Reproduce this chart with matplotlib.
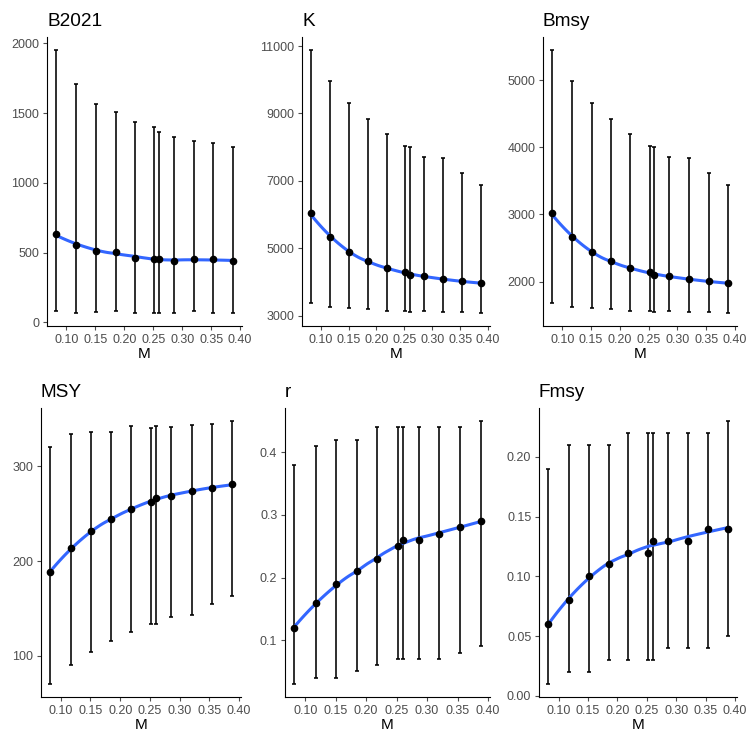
import numpy as np
import matplotlib
matplotlib.use("Agg")
import matplotlib.pyplot as plt

plt.rcParams['font.family'] = ['Liberation Sans', 'DejaVu Sans']

# ---- data ----
M = [0.082, 0.117, 0.151, 0.185, 0.218, 0.252, 0.260, 0.286, 0.320, 0.354, 0.388]

b2021 = [631, 555, 512, 505, 464, 457, 457, 440, 452, 457, 440]
b2021_lo = [79, 71, 76, 79, 71, 71, 71, 71, 79, 71, 69]
b2021_hi = [1952, 1710, 1567, 1512, 1440, 1398, 1362, 1331, 1300, 1290, 1255]

k = [6032, 5321, 4877, 4610, 4402, 4294, 4205, 4165, 4086, 4017, 3958]
k_lo = [3375, 3247, 3217, 3198, 3148, 3148, 3109, 3138, 3109, 3109, 3079]
k_hi = [10881, 9963, 9301, 8847, 8402, 8037, 8017, 7711, 7691, 7237, 6881]

bmsy = [3015, 2658, 2436, 2302, 2198, 2144, 2099, 2079, 2040, 2005, 1975]
bmsy_lo = [1683, 1619, 1604, 1594, 1559, 1559, 1550, 1559, 1550, 1550, 1535]
bmsy_hi = [5446, 4985, 4653, 4426, 4203, 4020, 4010, 3856, 3847, 3619, 3441]

msy = [188, 214, 232, 244, 255, 262, 267, 269, 274, 277, 281]
msy_lo = [70, 90, 104, 115, 125, 133, 133, 141, 143, 154, 163]
msy_hi = [321, 334, 336, 337, 343, 341, 343, 342, 344, 345, 348]

r = [0.12, 0.16, 0.19, 0.21, 0.23, 0.25, 0.26, 0.26, 0.27, 0.28, 0.29]
r_lo = [0.03, 0.04, 0.04, 0.05, 0.06, 0.07, 0.07, 0.07, 0.07, 0.08, 0.09]
r_hi = [0.38, 0.41, 0.42, 0.42, 0.44, 0.44, 0.44, 0.44, 0.44, 0.44, 0.45]

fmsy = [0.06, 0.08, 0.10, 0.11, 0.12, 0.12, 0.13, 0.13, 0.13, 0.14, 0.14]
fmsy_lo = [0.01, 0.02, 0.02, 0.03, 0.03, 0.03, 0.03, 0.04, 0.04, 0.04, 0.05]
fmsy_hi = [0.19, 0.21, 0.21, 0.21, 0.22, 0.22, 0.22, 0.22, 0.22, 0.22, 0.23]

titles = ["B2021", "K", "Bmsy", "MSY", "r", "Fmsy"]
yticks = [
    [0, 500, 1000, 1500, 2000],
    [3000, 5000, 7000, 9000, 11000],
    [2000, 3000, 4000, 5000],
    [100, 200, 300],
    [0.1, 0.2, 0.3, 0.4],
    [0.00, 0.05, 0.10, 0.15, 0.20],
]
yfmt = ["{:.0f}", "{:.0f}", "{:.0f}", "{:.0f}", "{:.1f}", "{:.2f}"]
xticks = [0.10, 0.15, 0.20, 0.25, 0.30, 0.35, 0.40]

series = [
    (b2021, b2021_lo, b2021_hi),
    (k, k_lo, k_hi),
    (bmsy, bmsy_lo, bmsy_hi),
    (msy, msy_lo, msy_hi),
    (r, r_lo, r_hi),
    (fmsy, fmsy_lo, fmsy_hi),
]

# panel boxes in pixels: left, right, top, bottom
W, H = 747, 732
boxes = [
    (47, 242, 37, 326),
    (302, 490, 37, 326),
    (543, 737, 37, 326),
    (41, 241, 408, 697),
    (285, 490, 408, 697),
    (539, 737, 408, 697),
]


def loess(x, y, xs, span=0.75):
    x = np.asarray(x, float)
    y = np.asarray(y, float)
    n = len(x)
    q = int(np.floor(n * span))
    out = []
    for x0 in xs:
        d = np.abs(x - x0)
        dq = np.sort(d)[q - 1]
        u = np.clip(d / dq, 0, 1)
        w = (1 - u ** 3) ** 3
        X = np.vstack([np.ones(n), x - x0, (x - x0) ** 2]).T
        Wm = np.diag(w)
        beta = np.linalg.lstsq(X.T @ Wm @ X, X.T @ Wm @ y, rcond=None)[0]
        out.append(beta[0])
    return np.array(out)


fig = plt.figure(figsize=(W / 100, H / 100), dpi=100)
grey30 = "#4D4D4D"

for i, (title, (v, lo, hi)) in enumerate(zip(titles, series)):
    l, rr, t, b = boxes[i]
    ax = fig.add_axes([l / W, 1 - b / H, (rr - l) / W, (b - t) / H])
    v = np.asarray(v, float)
    lo = np.asarray(lo, float)
    hi = np.asarray(hi, float)
    xa = np.asarray(M, float)
    ax.errorbar(xa, v, yerr=[v - lo, hi - v], fmt='none', ecolor='black',
                elinewidth=1.15, capsize=1.7, capthick=1.15, zorder=2)
    xs = np.linspace(xa.min(), xa.max(), 80)
    ys = loess(xa, v, xs)
    ax.plot(xs, ys, color='#3366FF', lw=2.2, zorder=3, solid_capstyle='butt')
    ax.plot(xa, v, 'o', color='black', ms=4.5, zorder=4)

    xr = xa.max() - xa.min()
    ax.set_xlim(xa.min() - 0.05 * xr, xa.max() + 0.05 * xr)
    ymin = min(lo.min(), ys.min())
    ymax = max(hi.max(), ys.max())
    yr = ymax - ymin
    ax.set_ylim(ymin - 0.05 * yr, ymax + 0.05 * yr)

    ax.set_xticks(xticks)
    ax.set_xticklabels(["{:.2f}".format(t_) for t_ in xticks])
    ax.set_yticks(yticks[i])
    ax.set_yticklabels([yfmt[i].format(t_) for t_ in yticks[i]])

    for s in ['top', 'right']:
        ax.spines[s].set_visible(False)
    for s in ['left', 'bottom']:
        ax.spines[s].set_linewidth(0.8)
        ax.spines[s].set_color('black')
    ax.tick_params(axis='both', length=3, width=0.8, color=grey30,
                   labelcolor=grey30, labelsize=9.0, pad=2.5)
    ax.set_xlabel("M", fontsize=11, labelpad=1, color='black')
    ax.set_title(title, loc='left', fontsize=13.7, pad=8, color='black')

fig.savefig("out.png", dpi=100)
